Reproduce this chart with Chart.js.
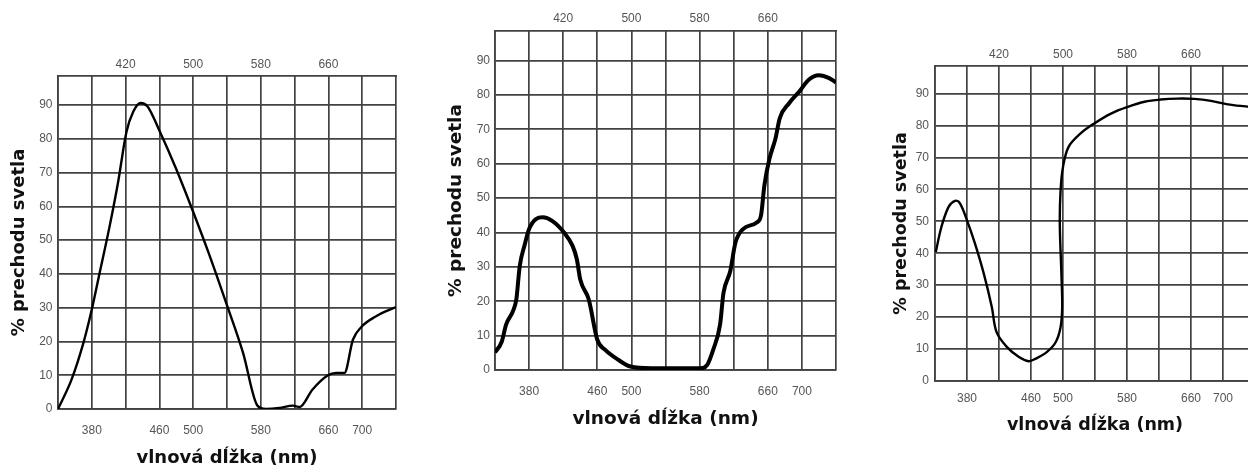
<!DOCTYPE html>
<html>
<head>
<meta charset="utf-8">
<script src="https://cdn.jsdelivr.net/npm/chart.js@4"></script>
<style>
  html, body { margin: 0; padding: 0; background: #fff; width: 1248px; height: 468px; overflow: hidden; position: relative; }
  .box { position: absolute; top: 0; height: 468px; }
</style>
</head>
<body>
<div class="box" id="b1" style="left:0px;width:410px;"><canvas id="c1"></canvas></div>
<div class="box" id="b2" style="left:420px;width:430px;"><canvas id="c2"></canvas></div>
<div class="box" id="b3" style="left:860px;width:410px;"><canvas id="c3"></canvas></div>
<script>
// ---- data ----
const bottomTickLabels = [380, 460, 500, 580, 660, 700];
const topTickLabels = [420, 500, 580, 660];
const yTickLabels = [0, 10, 20, 30, 40, 50, 60, 70, 80, 90];
const xAxisTitle = 'vlnová dĺžka (nm)';
const yAxisTitle = '% prechodu svetla';

const wavelengthsA = [340, 356, 370, 379, 389, 401, 411, 421, 429, 438, 446, 459, 480, 499, 519, 539, 559, 576, 586, 602, 618, 626, 641, 659, 669, 679, 689, 699, 716, 740];
const transmissionA = [0, 8.7, 19.5, 28.4, 40, 54, 67, 82, 88, 90.6, 89.6, 83, 71, 59, 45.7, 31.4, 16.6, 1, 0, 0.3, 1, 0.6, 5.7, 9.9, 10.7, 10.7, 20.5, 24.3, 27.4, 30.2];

const wavelengthsB = [340, 348, 353, 361, 365, 369, 375, 380, 388, 396, 407, 421, 431, 436, 440, 450, 460, 469, 485, 499, 523, 562, 581, 589, 596, 604, 608, 616, 622, 631, 647, 652, 656, 662, 669, 674, 685, 697, 708, 720, 732, 740];
const transmissionB = [5.1, 8.3, 13.2, 17.1, 20.5, 30.2, 36.6, 41, 43.9, 44.4, 43.4, 40, 36.1, 32.2, 26.3, 20.5, 8.8, 5.9, 2.9, 1, 0.5, 0.5, 0.5, 1.5, 5.9, 13.2, 22.4, 28.8, 37, 41, 42.9, 44.9, 53.7, 61.5, 67.3, 73.2, 77.6, 81, 84.4, 85.7, 84.9, 83.6];

const wavelengthsC = [341, 348, 357, 365, 371, 380, 390, 401, 411, 417, 430, 445, 457, 466, 480, 491, 497, 499, 498, 496, 497, 500, 507, 522, 539, 560, 581, 602, 622, 643, 664, 685, 706, 733, 740];
const transmissionC = [40.4, 48.2, 54.5, 56.4, 55.7, 50.3, 43, 33.6, 23.2, 15.3, 10.6, 7.5, 6.2, 7, 9.1, 12.2, 16.9, 23.2, 33.6, 49.3, 59.7, 67, 73.3, 77.5, 80.6, 83.7, 85.8, 87.4, 88.1, 88.4, 88.3, 87.7, 86.6, 85.8, 85.5];

const xMin = 340, xMax = 740, xStep = 40;
const yMin = 0, yMax = 98.6, yStep = 10;

// ---- chart builder ----
const gridColor = '#424242';
const gridWidth = 1.7;
const tickFont = { family: '"Liberation Sans", Arial, sans-serif', size: 12 };
const tickColor = '#555';

function build(id, wl, tr, cfg) {
  const pts = wl.map((x, i) => ({ x: x, y: tr[i] }));
  new Chart(document.getElementById(id), {
    type: 'line',
    data: { datasets: [{ data: pts, borderColor: '#000', borderWidth: cfg.lineWidth, pointRadius: 0,
      tension: 0.35, cubicInterpolationMode: cfg.interp, fill: false }] },
    options: {
      responsive: true,
      maintainAspectRatio: false,
      animation: false,
      events: [],
      layout: { padding: { left: 0, top: 0, bottom: 0, right: cfg.rightPad } },
      plugins: { legend: { display: false }, tooltip: { enabled: false } },
      scales: {
        x: {
          type: 'linear', position: 'bottom', min: xMin, max: xMax,
          afterFit: s => { s.height = cfg.bottomH; },
          ticks: { stepSize: xStep, autoSkip: false, maxRotation: 0, padding: cfg.bottomTickPad, font: tickFont, color: tickColor,
                   callback: v => bottomTickLabels.includes(v) ? String(v) : '' },
          grid: { color: gridColor, lineWidth: gridWidth, drawTicks: false },
          border: { color: gridColor, width: gridWidth },
          title: { display: true, text: xAxisTitle, color: '#111',
                   font: { family: '"DejaVu Sans", Verdana, sans-serif', weight: 'bold', size: cfg.titleSize, lineHeight: 1 },
                   padding: { top: 0, bottom: cfg.xTitlePad } }
        },
        x2: {
          type: 'linear', position: 'top', min: xMin, max: xMax,
          afterFit: s => { s.height = cfg.topH; },
          ticks: { stepSize: xStep, autoSkip: false, maxRotation: 0, padding: cfg.topTickPad, font: tickFont, color: tickColor,
                   callback: v => topTickLabels.includes(v) ? String(v) : '' },
          grid: { display: false, drawTicks: false },
          border: { color: gridColor, width: gridWidth }
        },
        y: {
          type: 'linear', position: 'left', min: yMin, max: yMax, bounds: 'data',
          afterFit: s => { s.width = cfg.yW; },
          ticks: { stepSize: yStep, includeBounds: false, padding: cfg.yTickPad, font: tickFont, color: tickColor,
                   callback: v => yTickLabels.includes(v) ? String(v) : '' },
          grid: { color: gridColor, lineWidth: gridWidth, drawTicks: false },
          border: { color: gridColor, width: gridWidth },
          title: { display: true, text: yAxisTitle, color: '#111',
                   font: { family: '"DejaVu Sans", Verdana, sans-serif', weight: 'bold', size: cfg.titleSize, lineHeight: 1 },
                   padding: { top: cfg.yTitlePad, bottom: 0 } }
        }
      }
    }
  });
}

build('c1', wavelengthsA, transmissionA, { lineWidth: 2.4, interp: 'monotone', rightPad: 13, topH: 76, bottomH: 59, yW: 58,
  topTickPad: 4, bottomTickPad: 14, yTickPad: 5.5, xTitlePad: 1, yTitlePad: 10, titleSize: 18 });
build('c2', wavelengthsB, transmissionB, { lineWidth: 4, interp: 'monotone', rightPad: 9, topH: 31, bottomH: 98, yW: 75,
  topTickPad: 5, bottomTickPad: 14, yTickPad: 5, xTitlePad: 40, yTitlePad: 27, titleSize: 18.5 });
build('c3', wavelengthsC, transmissionC, { lineWidth: 2.4, interp: 'default', rightPad: 15, topH: 66, bottomH: 87, yW: 75,
  topTickPad: 4, bottomTickPad: 10, yTickPad: 6, xTitlePad: 34, yTitlePad: 33, titleSize: 17.5 });
</script>
</body>
</html>
